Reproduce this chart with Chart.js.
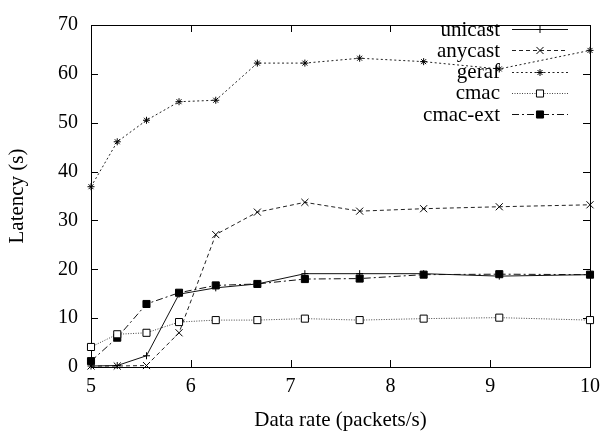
<!DOCTYPE html>
<html>
<head>
<meta charset="utf-8">
<title>Latency vs data rate</title>
<script src="https://cdn.jsdelivr.net/npm/chart.js@4.4.0/dist/chart.umd.min.js"></script>
<style>
  html, body { margin: 0; padding: 0; background: #fff; }
  #latencyChart { display: block; }
</style>
</head>
<body>
<canvas id="latencyChart" width="608" height="435"></canvas>
<script>
// data rates are 1/interval for intervals 0.20 ... 0.10 s
const dataRates = [5, 5.263, 5.556, 5.882, 6.25, 6.667, 7.143, 7.692, 8.333, 9.091, 10];

const unicast  = [0.2, 0.3, 2.3, 14.9, 16.2, 17.0, 19.1, 19.1, 19.1, 18.6, 18.9];
const anycast  = [0.2, 0.2, 0.3, 7.0, 27.1, 31.7, 33.7, 31.9, 32.4, 32.8, 33.2];
const geraf    = [36.9, 46.1, 50.5, 54.3, 54.6, 62.2, 62.2, 63.2, 62.5, 61.0, 64.8];
const cmac     = [4.1, 6.7, 7.0, 9.2, 9.6, 9.6, 9.9, 9.6, 9.9, 10.1, 9.6];
const cmacExt  = [1.2, 6.0, 12.9, 15.2, 16.7, 17.0, 18.0, 18.1, 18.9, 19.0, 18.9];

const xTicks = [5, 6, 7, 8, 9, 10];
const yTicks = [0, 10, 20, 30, 40, 50, 60, 70];

const serif = 'Liberation Serif';
const TICK = 7;

function points(values) {
    return values.map((v, i) => ({ x: dataRates[i], y: v }));
}

function series(label, values, dash, style, radius, fill, color) {
    return {
        label: label,
        data: points(values),
        borderColor: color || '#111',
        borderWidth: 1,
        borderDash: dash,
        pointStyle: style,
        pointRadius: radius,
        pointHoverRadius: radius,
        pointBorderColor: '#000',
        pointBorderWidth: 1,
        pointBackgroundColor: fill,
        tension: 0,
        fill: false,
        clip: false
    };
}

// border box with inward ticks on all four sides, gnuplot style
const frame = {
    id: 'frame',
    beforeDatasetsDraw(chart) {
        const { ctx, chartArea: a, scales: { x, y } } = chart;
        ctx.save();
        ctx.strokeStyle = '#000';
        ctx.lineWidth = 1;
        ctx.setLineDash([]);
        ctx.strokeRect(a.left + 0.5, a.top + 0.5, a.right - a.left, a.bottom - a.top);
        ctx.beginPath();
        xTicks.forEach(v => {
            const px = Math.round(x.getPixelForValue(v)) + 0.5;
            ctx.moveTo(px, a.bottom);
            ctx.lineTo(px, a.bottom - TICK);
            ctx.moveTo(px, a.top);
            ctx.lineTo(px, a.top + TICK);
        });
        yTicks.forEach(v => {
            const py = Math.round(y.getPixelForValue(v)) + 0.5;
            ctx.moveTo(a.left, py);
            ctx.lineTo(a.left + TICK, py);
            ctx.moveTo(a.right, py);
            ctx.lineTo(a.right - TICK, py);
        });
        ctx.stroke();
        ctx.restore();
    }
};

// key inside the plot: right-aligned label, then a line sample with its marker
const key = {
    id: 'key',
    afterDatasetsDraw(chart) {
        const { ctx } = chart;
        const textRight = 500, lineStart = 512, lineEnd = 568, markX = 540;
        ctx.save();
        ctx.font = '21px "' + serif + '"';
        ctx.textAlign = 'right';
        ctx.textBaseline = 'middle';
        chart.data.datasets.forEach((ds, i) => {
            const rowY = 29 + i * 21.25;
            ctx.fillStyle = '#000';
            ctx.fillText(ds.label, textRight, rowY + 1);
            ctx.strokeStyle = ds.borderColor;
            ctx.lineWidth = 1;
            ctx.setLineDash(ds.borderDash);
            ctx.beginPath();
            ctx.moveTo(lineStart, Math.round(rowY) + 0.5);
            ctx.lineTo(lineEnd, Math.round(rowY) + 0.5);
            ctx.stroke();
            ctx.setLineDash([]);
            ctx.strokeStyle = '#000';
            ctx.fillStyle = ds.pointBackgroundColor;
            Chart.helpers.drawPoint(ctx, {
                pointStyle: ds.pointStyle,
                radius: ds.pointRadius,
                borderWidth: 1,
                rotation: 0
            }, markX, Math.round(rowY) + 0.5);
        });
        ctx.restore();
    }
};

new Chart(document.getElementById('latencyChart'), {
    type: 'line',
    data: {
        datasets: [
            series('unicast', unicast, [], 'cross', 3.5, '#000', '#111'),
            series('anycast', anycast, [4, 3], 'crossRot', 5, '#000', '#222'),
            series('geraf', geraf, [2, 2.5], 'star', 3.5, '#000', '#222'),
            series('cmac', cmac, [1, 1.5], 'rect', 5, '#fff', '#444'),
            series('cmac-ext', cmacExt, [7, 3, 2, 3], 'rect', 5, '#000', '#111')
        ]
    },
    options: {
        responsive: false,
        animation: false,
        devicePixelRatio: 1,
        layout: { padding: { top: 13, right: 13, bottom: 0, left: 0 } },
        plugins: {
            legend: { display: false },
            tooltip: { enabled: false }
        },
        scales: {
            x: {
                type: 'linear',
                min: 5,
                max: 10,
                afterFit: s => { s.height = 68; },
                afterBuildTicks: s => { s.ticks = xTicks.map(v => ({ value: v })); },
                grid: { display: false, drawTicks: false },
                border: { display: false },
                ticks: {
                    padding: 8,
                    color: '#000',
                    font: { family: serif, size: 20 }
                },
                title: {
                    display: true,
                    text: 'Data rate (packets/s)',
                    color: '#000',
                    font: { family: serif, size: 21 },
                    padding: { top: 0, bottom: 2 }
                }
            },
            y: {
                min: 0,
                max: 70,
                afterFit: s => { s.width = 91; },
                afterBuildTicks: s => { s.ticks = yTicks.map(v => ({ value: v })); },
                grid: { display: false, drawTicks: false },
                border: { display: false },
                ticks: {
                    padding: 13,
                    color: '#000',
                    font: { family: serif, size: 20 }
                },
                title: {
                    display: true,
                    text: 'Latency (s)',
                    color: '#000',
                    font: { family: serif, size: 21 },
                    padding: { top: 5, bottom: 0 }
                }
            }
        }
    },
    plugins: [frame, key]
});
</script>
</body>
</html>
